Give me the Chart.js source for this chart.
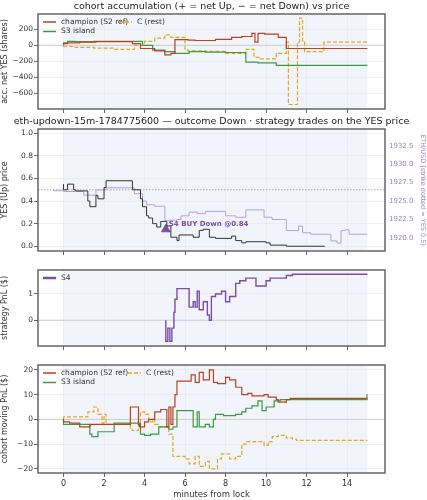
<!DOCTYPE html>
<html>
<head>
<meta charset="utf-8">
<script src="https://cdn.jsdelivr.net/npm/chart.js@4.4.1/dist/chart.umd.min.js"></script>
<style>
  body { margin: 0; background: #fff; width: 427px; height: 500px; position: relative; overflow: hidden; }
  .panel { position: absolute; left: 0; width: 427px; }
</style>
</head>
<body>
<div class="panel" style="top:0;height:118px"><canvas id="c1"></canvas></div>
<div class="panel" style="top:112px;height:148px"><canvas id="c2"></canvas></div>
<div class="panel" style="top:262px;height:93px"><canvas id="c3"></canvas></div>
<div class="panel" style="top:357px;height:143px"><canvas id="c4"></canvas></div>
<script>
// ---- data (minutes from lock) ----
const xTicks = [0, 2, 4, 6, 8, 10, 12, 14];

// panel 1: accumulated net YES shares
const accChampT = [0, 0.2, 0.8, 1.6, 3.4, 3.8, 4.5, 5.0, 5.3, 5.5, 6.15, 6.5, 7.5, 8.3, 8.8, 9.3, 9.45, 9.6, 9.93, 10.6, 11.0, 11.05, 15];
const accChampV = [0, 20, 30, 40, 45, 20, -40, -70, -120, -100, 70, 65, 60, 75, 100, 110, 150, 40, 150, 140, 100, -40, -40];
const accS3T = [0, 0.2, 0.6, 1.5, 3.9, 4.4, 5.0, 5.5, 6.2, 7.0, 8.0, 9.0, 9.6, 10.5, 11.1, 15];
const accS3V = [0, 30, 50, 45, 50, 0, -60, -80, -100, -80, -85, -90, -210, -220, -250, -250];
const accCT = [0, 0.5, 1.5, 2.5, 3.5, 4.0, 4.5, 5.0, 5.3, 6.0, 6.15, 7.0, 8.0, 9.0, 9.4, 9.7, 10.5, 11.0, 11.1, 11.55, 11.65, 11.8, 11.9, 12.85, 12.95, 15];
const accCV = [-10, -15, -25, -35, -50, 0, 50, 90, 130, 100, -60, -70, -75, -100, -50, -150, -170, -100, 40, -740, 40, 340, 40, -80, 40, 40];

// panel 2: YES price and ETH/USD
const yesT = [0, 0.2, 0.5, 0.6, 1.2, 1.3, 1.6, 1.7, 2.0, 2.1, 3.4, 3.8, 3.9, 4.1, 4.2, 4.4, 4.6, 4.8, 5.1, 5.3, 5.6, 5.7, 6.4, 6.7, 6.9, 7.2, 7.5, 8.3, 8.5, 8.8, 9.0, 10.0, 10.2, 11.0, 12.0, 12.9];
const yesV = [0.55, 0.5, 0.55, 0.5, 0.49, 0.4, 0.35, 0.45, 0.42, 0.52, 0.58, 0.5, 0.42, 0.35, 0.27, 0.25, 0.2, 0.17, 0.22, 0.18, 0.08, 0.05, 0.1, 0.08, 0.14, 0.15, 0.08, 0.07, 0.09, 0.05, 0.03, 0.04, 0.03, 0.01, 0.0, 0.0];
const ethT = [-0.5, 0, 1.0, 1.6, 1.8, 2.1, 3.5, 3.9, 4.1, 4.5, 5.0, 5.6, 5.8, 6.2, 6.6, 7.0, 8.0, 8.5, 9.0, 9.9, 10.3, 11.0, 11.6, 11.8, 12.2, 13.2, 13.5, 13.7, 13.9, 14.1, 15];
const ethV = [1926.6, 1926.4, 1926.3, 1925.8, 1926.5, 1926.5, 1926.8, 1926.0, 1925.0, 1924.5, 1924.3, 1922.4, 1922.5, 1923.0, 1923.5, 1923.3, 1923.6, 1923.0, 1922.8, 1923.8, 1922.8, 1922.5, 1921.0, 1921.6, 1920.7, 1920.5, 1919.6, 1919.3, 1921.0, 1921.1, 1920.5];
const strikeYes = 0.5;
const tradeT = [5.05];
const tradeV = [0.15];
const tradeLabel = 'S4 BUY Down @0.84';

// panel 3: strategy PnL
const s4T = [5.05, 5.15, 5.25, 5.35, 5.45, 5.5, 5.6, 5.7, 6.2, 6.4, 6.5, 6.6, 6.7, 6.9, 7.1, 7.2, 7.3, 7.5, 7.8, 8.0, 8.2, 8.5, 8.7, 9.0, 9.5, 10.0, 10.2, 11.0, 11.3, 12.0, 15];
const s4V = [0, -0.8, -0.3, -0.8, -0.3, 0.3, 0.8, 1.2, 1.2, 0.5, 0.7, 0.5, 1.1, 0.4, 0.7, 0.2, 0.0, 0.9, 1.0, 1.1, 0.7, 0.9, 1.4, 1.5, 1.6, 1.3, 1.5, 1.6, 1.7, 1.75, 1.75];

// panel 4: cohort moving PnL
const pnlChampT = [0, 0.3, 0.8, 1.3, 1.8, 3.3, 3.4, 3.7, 3.75, 4.0, 4.2, 4.5, 4.8, 5.1, 5.2, 5.3, 5.4, 5.5, 5.6, 5.7, 6.3, 6.5, 6.7, 6.9, 7.2, 7.4, 7.6, 8.0, 8.2, 8.5, 8.8, 9.1, 9.3, 9.9, 10.1, 10.5, 10.6, 11.0, 11.2, 11.5, 15];
const pnlChampV = [0, -1, -1.5, -3, -2, -2, 5, 5, -2, -3, -1, 0, 3, 4, -3, 5, -2, 5, 10, 15.5, 15.5, 18, 15, 19, 16, 20, 15, 14.5, 17, 16, 13, 10, 10.5, 9.5, 10, 9, 8, 7, 8, 8.5, 8.5];
const pnlS3T = [0, 0.6, 1.3, 1.4, 1.7, 1.8, 2.5, 2.6, 3.8, 4.0, 4.3, 4.7, 4.9, 5.2, 5.4, 5.6, 5.8, 6.4, 6.6, 6.7, 7.0, 7.2, 7.4, 7.5, 7.9, 8.5, 8.8, 9.0, 9.3, 9.6, 9.8, 10.0, 10.4, 10.7, 11.2, 14.98, 15];
const pnlS3V = [0, -2, -2, -6, -7, -5, -5, -1.5, -1.5, -6, -6.5, -6, -3, -3, -4, -3, 3.5, 3.5, -3, 3, -3, -2, -3, 0, 2, 1.5, 2, 3, 4.5, 5.5, 7.5, 3.5, 5, 7.5, 8, 8, 10];
const pnlCT = [0, 0.2, 1.2, 1.5, 1.7, 1.9, 2.0, 2.1, 2.2, 3.3, 3.4, 3.7, 3.8, 4.0, 4.2, 4.4, 4.5, 4.7, 5.2, 5.4, 5.6, 6.0, 6.2, 6.5, 6.7, 7.0, 7.2, 7.3, 7.6, 7.8, 8.2, 8.5, 8.8, 9.0, 9.5, 9.9, 10.1, 10.3, 10.6, 11.0, 11.3, 11.5, 12, 15];
const pnlCV = [0, 1, 1, 3, 5, 2, -1.5, 2, -2, -2, -4, -4.5, -2, 3, 2, -1, 0, -2, -3, -6, -15, -15, -16, -18, -15, -19, -17, -20, -20, -16, -14, -16, -15, -10, -9, -9, -10.5, -9, -7, -6.5, -7.5, -8, -8.5, -8.5];

// ---- helpers ----
const RED = '#b8431f', GREEN = '#3d9a41', GOLD = '#e3a71b', PURPLE = '#7d4ca8', ETH = '#b4a2d4';
const FONT = 'DejaVu Sans';
Chart.defaults.font.family = FONT;
Chart.defaults.font.size = 8;
Chart.defaults.color = '#333';

const pts = (t, v) => t.map((x, i) => ({ x: x, y: v[i] }));
const line = (label, t, v, color, extra) => Object.assign({
  label: label, data: pts(t, v), borderColor: color, backgroundColor: color,
  borderWidth: 1.2, stepped: 'after', pointRadius: 0, fill: false
}, extra || {});

// background band, frame, reference line, title, legend
const decor = {
  id: 'decor',
  beforeDatasetsDraw(chart, args, o) {
    const { ctx, chartArea: a, scales } = chart;
    const x0 = scales.x.getPixelForValue(0), x1 = scales.x.getPixelForValue(15);
    ctx.save();
    ctx.fillStyle = 'rgba(225,231,246,0.45)';
    ctx.fillRect(x0, a.top, x1 - x0, a.bottom - a.top);
    if (o.refY !== undefined) {
      const y = scales.y.getPixelForValue(o.refY);
      ctx.strokeStyle = o.refDash ? '#aaa' : '#ccc';
      ctx.lineWidth = 1;
      ctx.setLineDash(o.refDash ? [1.5, 1.5] : []);
      ctx.beginPath(); ctx.moveTo(a.left, y); ctx.lineTo(a.right, y); ctx.stroke();
    }
    ctx.restore();
  },
  afterDraw(chart, args, o) {
    const { ctx, chartArea: a } = chart;
    ctx.save();
    ctx.strokeStyle = '#666';
    ctx.lineWidth = 1.5;
    ctx.strokeRect(a.left, a.top, a.right - a.left, a.bottom - a.top);
    if (o.title) {
      ctx.fillStyle = '#222';
      ctx.font = '9.5px ' + FONT;
      ctx.textAlign = 'center'; ctx.textBaseline = 'middle';
      ctx.fillText(o.title, (a.left + a.right) / 2, o.titleY);
    }
    if (o.legend) {
      ctx.font = '7.5px ' + FONT;
      ctx.textAlign = 'left'; ctx.textBaseline = 'middle';
      chart.data.datasets.forEach((d, i) => {
        if (i >= o.legend) return;
        const col = i === 2 ? 1 : 0, row = i === 2 ? 0 : i;
        const lx = a.left + 5 + col * o.colW, ly = a.top + 8 + row * 9.5;
        ctx.strokeStyle = d.borderColor;
        ctx.lineWidth = o.legendWidth || 1.5;
        ctx.setLineDash(d.borderDash || []);
        ctx.beginPath(); ctx.moveTo(lx, ly); ctx.lineTo(lx + 13, ly); ctx.stroke();
        ctx.setLineDash([]);
        ctx.fillStyle = '#333';
        ctx.fillText(d.label, lx + 18, ly);
      });
    }
    if (o.trade) {
      const x = chart.scales.x.getPixelForValue(tradeT[0]), y = chart.scales.y.getPixelForValue(tradeV[0]);
      ctx.font = 'bold 7px ' + FONT;
      ctx.fillStyle = PURPLE;
      ctx.textAlign = 'left'; ctx.textBaseline = 'middle';
      ctx.fillText(tradeLabel, x + 3, y - 5);
    }
    ctx.restore();
  }
};

function xAxis(h, labels, title) {
  return {
    type: 'linear', min: -1.26, max: 15.87,
    afterBuildTicks: s => { s.ticks = xTicks.map(v => ({ value: v })); },
    afterFit: s => { s.height = h; },
    grid: { color: 'rgba(0,0,0,0.06)', tickLength: 4, tickColor: '#666' },
    border: { display: false },
    ticks: { callback: v => labels ? v : '', maxRotation: 0, padding: 2 },
    title: title ? { display: true, text: title, font: { size: 8.5 }, padding: 0 } : { display: false }
  };
}
function yAxis(min, max, ticks, title, fmt) {
  return {
    min: min, max: max,
    afterBuildTicks: s => { s.ticks = ticks.map(v => ({ value: v })); },
    afterFit: s => { s.width = 38; },
    grid: { color: 'rgba(0,0,0,0.06)', tickLength: 4, tickColor: '#666' },
    border: { display: false },
    ticks: { padding: 1, font: { size: 7.5 }, callback: fmt || (v => (v < 0 ? '\u2212' + Math.abs(v) : v)) },
    title: { display: true, text: title, font: { size: 8 }, padding: 0 }
  };
}
const base = (pad, decorOpts) => ({
  responsive: true, maintainAspectRatio: false, animation: false,
  layout: { padding: pad },
  plugins: { legend: { display: false }, tooltip: { enabled: false }, decor: decorOpts }
});

// ---- panel 1 ----
new Chart(document.getElementById('c1'), {
  type: 'line',
  data: { datasets: [
    line('champion (S2 ref)', accChampT, accChampV, RED),
    line('S3 island', accS3T, accS3V, GREEN),
    line('C (rest)', accCT, accCV, GOLD, { borderDash: [4, 2] })
  ] },
  options: Object.assign(base({ top: 14, right: 42, left: 0, bottom: 0 },
    { refY: 0, title: 'cohort accumulation (+ = net Up, \u2212 = net Down) vs price', titleY: 7, legend: 3, colW: 76 }), {
    scales: { x: xAxis(9, false), y: yAxis(-796, 391, [-600, -400, -200, 0, 200], 'acc. net YES (shares)') }
  }),
  plugins: [decor]
});

// ---- panel 2 ----
new Chart(document.getElementById('c2'), {
  type: 'line',
  data: { datasets: [
    line('YES', yesT, yesV, '#333', { borderWidth: 1 }),
    line('ETH', ethT, ethV, ETH, { yAxisID: 'y1', borderWidth: 1 }),
    { type: 'scatter', label: 'trade', data: pts(tradeT, tradeV), pointStyle: 'triangle',
      pointRadius: 5, backgroundColor: PURPLE, borderColor: PURPLE }
  ] },
  options: Object.assign(base({ top: 17, left: 0, right: 0, bottom: 0 },
    { refY: strikeYes, refDash: true, title: 'eth-updown-15m-1784775600 \u2014 outcome Down \u00b7 strategy trades on the YES price', titleY: 10, trade: true }), {
    scales: {
      x: xAxis(9, false),
      y: yAxis(-0.042, 1.038, [0, 0.2, 0.4, 0.6, 0.8, 1.0], 'YES (Up) price', v => v.toFixed(1)),
      y1: {
        position: 'right', min: 1918.23, max: 1934.77,
        afterBuildTicks: s => { s.ticks = [1920, 1922.5, 1925, 1927.5, 1930, 1932.5].map(v => ({ value: v })); },
        afterFit: s => { s.width = 42; },
        grid: { display: false, tickLength: 3, tickColor: '#9a82c4' },
        border: { display: false },
        ticks: { color: '#9a82c4', font: { size: 7 }, padding: 1, callback: v => v.toFixed(1) },
        title: { display: true, text: 'ETH/USD (strike dotted = YES 0.5)', color: '#9a82c4', font: { size: 6.5 }, padding: 0 }
      }
    }
  }),
  plugins: [decor]
});

// ---- panel 3 ----
new Chart(document.getElementById('c3'), {
  type: 'line',
  data: { datasets: [ line('S4', s4T, s4V, PURPLE, { borderWidth: 1.4 }) ] },
  options: Object.assign(base({ top: 8, right: 42, left: 0, bottom: 0 },
    { refY: 0, legend: 1, colW: 70, legendWidth: 2.5 }), {
    scales: { x: xAxis(9, false), y: yAxis(-0.98, 1.91, [0, 1], 'strategy PnL ($)') }
  }),
  plugins: [decor]
});

// ---- panel 4 ----
new Chart(document.getElementById('c4'), {
  type: 'line',
  data: { datasets: [
    line('champion (S2 ref)', pnlChampT, pnlChampV, RED),
    line('S3 island', pnlS3T, pnlS3V, GREEN),
    line('C (rest)', pnlCT, pnlCV, GOLD, { borderDash: [4, 2] })
  ] },
  options: Object.assign(base({ top: 8, right: 42, left: 0, bottom: 0 },
    { refY: 0, legend: 3, colW: 85 }), {
    scales: { x: xAxis(27, true, 'minutes from lock'), y: yAxis(-21.7, 22, [-20, -10, 0, 10, 20], 'cohort moving PnL ($)') }
  }),
  plugins: [decor]
});
</script>
</body>
</html>
